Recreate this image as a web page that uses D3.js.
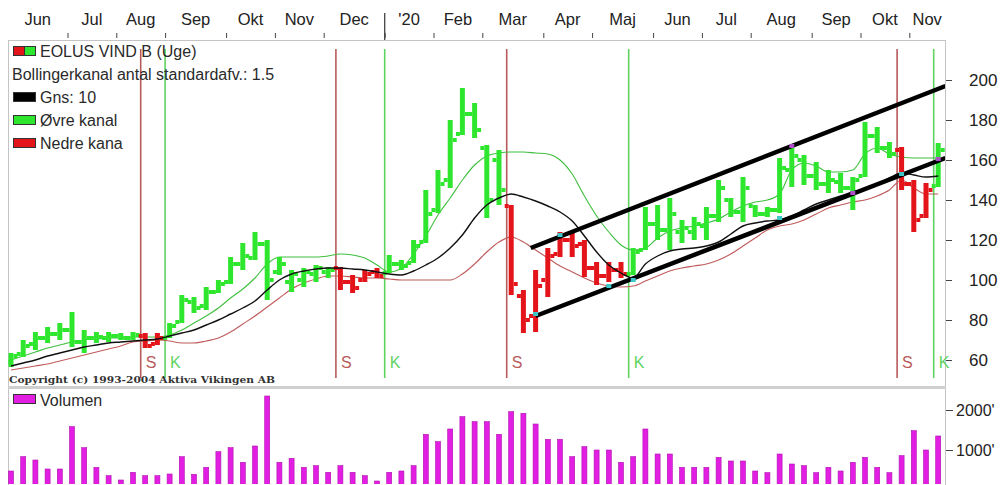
<!DOCTYPE html>
<html><head><meta charset="utf-8">
<script src="https://cdn.jsdelivr.net/npm/d3@7"></script>
<style>
html,body{margin:0;padding:0;background:#fff;}
svg{display:block;font-family:"Liberation Sans",Arial,sans-serif;}
</style></head>
<body>
<svg id="c" width="1005" height="485"></svg>
<script>
// ---- data ----
const weeks = ["2019-05-27","2019-06-03","2019-06-10","2019-06-17","2019-06-24","2019-07-01","2019-07-08","2019-07-15","2019-07-22","2019-07-29",
"2019-08-05","2019-08-12","2019-08-19","2019-08-26","2019-09-02","2019-09-09","2019-09-16","2019-09-23","2019-09-30","2019-10-07",
"2019-10-14","2019-10-21","2019-10-28","2019-11-04","2019-11-11","2019-11-18","2019-11-25","2019-12-02","2019-12-09","2019-12-16",
"2019-12-23","2019-12-30","2020-01-06","2020-01-13","2020-01-20","2020-01-27","2020-02-03","2020-02-10","2020-02-17","2020-02-24",
"2020-03-02","2020-03-09","2020-03-16","2020-03-23","2020-03-30","2020-04-06","2020-04-13","2020-04-20","2020-04-27","2020-05-04",
"2020-05-11","2020-05-18","2020-05-25","2020-06-01","2020-06-08","2020-06-15","2020-06-22","2020-06-29","2020-07-06","2020-07-13",
"2020-07-20","2020-07-27","2020-08-03","2020-08-10","2020-08-17","2020-08-24","2020-08-31","2020-09-07","2020-09-14","2020-09-21",
"2020-09-28","2020-10-05","2020-10-12","2020-10-19","2020-10-26","2020-11-02","2020-11-09"];
const monthLabels = ["Jun","Jul","Aug","Sep","Okt","Nov","Dec","'20","Feb","Mar","Apr","Maj","Jun","Jul","Aug","Sep","Okt","Nov"];

const open  = [59,63,68,71,73,75,69,71,71,72,71,72,68,71,79,89,87,94,99,108,111,118,104,99,100,103,104,106,99,100,104,103.5,108,108.5,119,135,150,173,183,166,160,137,92,82,100,113,120,118,106,102,105,103,115,128,125,124,124,127,132,140,134,137,133,135,155,160,152,148,149,146,152,172,166,165,148,132,147];
const high  = [63.5,70,74,76.5,78.5,84,75,74,74,73.5,74,73.5,73.5,78.5,92.5,91.5,96.5,100,111.5,118.5,124,120,111.5,105,106,107.5,106.5,106.5,102.5,105,106,112.5,110,120,145,155,180,196,188.5,167.5,165,137.5,95,105,116,124,124,120,109,109,109,116,136.5,137.5,141,130,131.5,136.5,150,141,151.5,137.5,136.5,161,166.5,162.5,159,155,153.5,151.5,179,176.5,169,166.5,150,148.5,168.5];
const low   = [56.5,61.5,65,68.5,70,66.5,63.5,68.5,69,70,70,66,67.5,71,78.5,83.5,85,93.5,98,105,110,90,102.5,94,96.5,99,101,95,93.5,99,101,103.5,105,108.5,118.5,133.5,146,172.5,171,131,137.5,92.5,73.5,74,91.5,111.5,111.5,101.5,97.5,99,101,102.5,115,120,115,118.5,120,120,129,131.5,129,131.5,131.5,133.5,146.5,147.5,145,143.5,143.5,135,151.5,163.5,161,145,124,131,146.5];
const close = [62,67,71,73,75,69,71,71.5,72,71,72.5,67,71,77,90,86,94,98,108,112,118,100,108,103,104,106,105,99,96,103,102,108,107,117,133,148,170,183,175,140,145,98,80,97,112,120,117,106,102,105,103,114,128,125,133,126,128,132,146,134,146,133,135,156,162,152,148,150,146,150,172,166,163,148,130,145,165];
const volume = [475,833,750,525,525,1583,1058,567,358,250,442,358,358,400,833,392,567,958,1058,692,1100,2350,692,792,567,608,442,608,442,358,225,442,475,608,1392,1208,1525,1833,1708,1708,1392,1958,1917,1650,1267,1267,833,1083,1000,1000,692,833,1525,900,900,567,567,567,817,725,725,475,433,900,650,608,433,567,475,692,817,567,433,858,1483,1000,1350];
const average = [57,58.5,60,62,63.5,65,66.5,67.5,68.5,69,69.5,70,70.5,72,73.5,75,77.5,80,83,86,89.5,95,100,103,104.5,105.5,106,106,105.5,105,104,103,102.5,104.5,107.5,111,116,122.5,131,137.5,141,143,141.5,139.5,137,134,129.5,122,114,107.5,103.5,101,108,112,114.5,115.5,116,117,119,123,127,128.5,129.5,130,132,135,138,140,142,144,145.5,148,151,153.5,152.5,151.5,152];
const upperBand = [60,62,64,66,67.5,69,70,70.5,71,71,71.5,71.5,71.5,72.5,75,78.5,82,86,91,95.5,101,108,111.5,111.5,111.5,111.5,112,113,112.5,111,107.5,104,106,113,122,132.5,141,150,157.5,162,163.5,164,164,163.5,163,160,153,142,132,124,117.5,115,116,121,124.5,126,127,128.5,130.5,134,137,139,140,143,155,158.5,157,154,154,155,163,166,163,161.5,161,161,161];
const lowerBand = [55,56,57,58,59.5,61,62.5,64,65.5,67,69,69.5,70,69.5,68.5,68.5,69.5,71,74,78,82,86.5,91,95.5,98.5,100.5,102,102,101.5,101,101,100.5,100,100,100,100,100,103,108,114,119,121.5,119,115,111,107,104,101,98.5,97,96.5,97,99.5,102,104.5,106,107,108,110,113,117,121,125,127,128,130,133,136,137.5,139,140,142,145,150,146,143,143];
const sellWeeks = [11,27,41,73];
const buyWeeks  = [13,31,51,76];
const channelUpper = [{i:42.6,v:116},{i:76.6,v:197}];
const channelLower = [{i:43,v:82},{i:76.6,v:161}];
const touchPoints = [{i:43,v:83,c:"#3cc8c8"},{i:45,v:122.5,c:"#3cc8c8"},{i:49,v:97,c:"#3cc8c8"},{i:51,v:100,c:"#3cc8c8"},{i:63,v:131,c:"#3cc8c8"},{i:64,v:167,c:"#b050c8"},{i:69,v:143.5,c:"#b050c8"},{i:73,v:153,c:"#3cc8c8"},{i:76,v:160.5,c:"#b050c8"}];
const priceTicks = [60,80,100,120,140,160,180,200];
const volumeTicks = [1000,2000];
const legendItems = ["EOLUS VIND B (Uge)","Bollingerkanal antal standardafv.: 1.5","Gns: 10","Øvre kanal","Nedre kana"];

// ---- layout ----
const L=8, R=945, T=40, MB=386, VT=389, VB=485;
const GREEN="#2fe62f", RED="#e3141a", SELL="#b85a5a", BUY="#5fd35f";
const svg = d3.select("#c");
const x = d3.scaleLinear().domain([0,76]).range([11,938.2]);
const y = d3.scaleLinear().domain([60,200]).range([360,80]);
const yv = d3.scaleLinear().domain([0,2000]).range([490,410]);
const sig = i => x(i) - 4.5;

svg.append("rect").attr("width",1005).attr("height",485).attr("fill","#fff");
const defs = svg.append("defs");
defs.append("clipPath").attr("id","cm").append("rect").attr("x",L).attr("y",T).attr("width",R-L).attr("height",MB-T);
defs.append("clipPath").attr("id","cv").append("rect").attr("x",L).attr("y",VT).attr("width",R-L).attr("height",VB-VT-1);

// panels
svg.append("rect").attr("x",L+0.5).attr("y",T+0.5).attr("width",R-L).attr("height",MB-T).attr("fill","none").attr("stroke","#c4c4c4");
svg.append("rect").attr("x",L).attr("y",MB).attr("width",R-L+1).attr("height",VT-MB).attr("fill","#cfcfcf");
svg.append("line").attr("x1",L+0.5).attr("x2",L+0.5).attr("y1",VT).attr("y2",VB).attr("stroke","#c4c4c4");
svg.append("line").attr("x1",R+0.5).attr("x2",R+0.5).attr("y1",VT).attr("y2",VB).attr("stroke","#c4c4c4");

// top axis
const monthIdx = weeks.map((w,i)=>{const d=new Date(w+"T00:00:00Z"); const e=new Date(d.getTime()+6*864e5); return (d.getUTCDate()===1||e.getUTCMonth()!==d.getUTCMonth())?i:-1;}).filter(i=>i>=0);
const tickPos = monthIdx.map(i=>sig(i));
const topAxis = d3.axisTop(d3.scaleIdentity()).tickValues(tickPos.filter(p=>p>L)).tickSize(5).tickFormat("");
const gt = svg.append("g").attr("transform","translate(0,38)").call(topAxis);
gt.select(".domain").remove();
gt.selectAll(".tick line").attr("stroke","#444");
const yearI = monthIdx.find(i=>weeks[i].startsWith("2019-12-30"));
svg.append("line").attr("x1",sig(yearI)).attr("x2",sig(yearI)).attr("y1",13).attr("y2",40).attr("stroke","#444").attr("stroke-width",1.3);
monthLabels.forEach((m,k)=>{
  const a = Math.max(tickPos[k], L);
  const b = k+1<tickPos.length ? tickPos[k+1] : R;
  svg.append("text").attr("x",(a+Math.min(b,R))/2).attr("y",25).attr("text-anchor","middle")
    .attr("font-size",16.5).attr("fill","#222").text(m);
});

// right price axis
const ga = svg.append("g").attr("transform",`translate(${R+1},0)`)
  .call(d3.axisRight(y).tickValues(priceTicks).tickSize(6).tickPadding(17));
ga.select(".domain").remove();
ga.selectAll("text").attr("font-size",17).attr("fill","#222").attr("font-family","Liberation Sans, Arial");
ga.selectAll(".tick line").attr("stroke","#444");
const gv = svg.append("g").attr("transform",`translate(${R+1},0)`)
  .call(d3.axisRight(yv).tickValues(volumeTicks).tickSize(7).tickPadding(3).tickFormat(d=>d+"'"));
gv.select(".domain").remove();
gv.selectAll("text").attr("font-size",16).attr("fill","#222").attr("font-family","Liberation Sans, Arial");
gv.selectAll(".tick line").attr("stroke","#444");

// main plot
const gm = svg.append("g").attr("clip-path","url(#cm)");
// signal lines
sellWeeks.forEach(i=>{
  gm.append("line").attr("x1",sig(i)).attr("x2",sig(i)).attr("y1",49).attr("y2",378).attr("stroke",SELL).attr("stroke-width",1.6);
  svg.append("text").attr("x",sig(i)+5).attr("y",368).attr("font-size",16).attr("fill",SELL).text("S");
});
buyWeeks.forEach(i=>{
  gm.append("line").attr("x1",sig(i)).attr("x2",sig(i)).attr("y1",49).attr("y2",378).attr("stroke",BUY).attr("stroke-width",1.6);
  svg.append("text").attr("x",sig(i)+5).attr("y",368).attr("font-size",16).attr("fill",BUY).text("K");
});

// bands and average
const line = d3.line().x((d,i)=>x(i)).y(d=>y(d)).curve(d3.curveMonotoneX);
gm.append("path").datum(upperBand).attr("d",line).attr("fill","none").attr("stroke","#3fbf3f").attr("stroke-width",1.1);
gm.append("path").datum(lowerBand).attr("d",line).attr("fill","none").attr("stroke","#c05a5a").attr("stroke-width",1.1);

// bars
const isRed = i => { let s=false; for(let k=0;k<=i;k++){ if(sellWeeks.includes(k)) s=true; if(buyWeeks.includes(k)) s=false; } return s; };
const gb = gm.append("g");
close.forEach((c,i)=>{
  const col = isRed(i)?RED:GREEN, cx=x(i);
  gb.append("rect").attr("x",cx-2.5).attr("y",y(high[i])).attr("width",5).attr("height",Math.max(2,y(low[i])-y(high[i]))).attr("fill",col);
  gb.append("rect").attr("x",cx-6.5).attr("y",y(open[i])-2).attr("width",4).attr("height",4).attr("fill",col);
  gb.append("rect").attr("x",cx+2.5).attr("y",y(c)-2).attr("width",4).attr("height",4).attr("fill",col);
});
gm.append("path").datum(average).attr("d",line).attr("fill","none").attr("stroke","#111").attr("stroke-width",1.4);

// channel lines
const cl = d3.line().x(d=>x(d.i)).y(d=>y(d.v));
gm.append("path").datum(channelUpper).attr("d",cl).attr("stroke","#000").attr("stroke-width",4.5).attr("fill","none");
gm.append("path").datum(channelLower).attr("d",cl).attr("stroke","#000").attr("stroke-width",4.5).attr("fill","none");
touchPoints.forEach(p=>{
  gm.append("rect").attr("x",x(p.i)-2.5).attr("y",y(p.v)-2).attr("width",5).attr("height",4).attr("fill",p.c);
});

// legend
const lg = svg.append("g");
const sw = [null,null,"#000",GREEN,RED];
legendItems.forEach((t,k)=>{
  const cy = 51 + k*23;
  if(k===0){
    lg.append("rect").attr("x",13.5).attr("y",cy-4.5).attr("width",11).attr("height",9).attr("fill",RED).attr("stroke","#333");
    lg.append("rect").attr("x",24.5).attr("y",cy-4.5).attr("width",11).attr("height",9).attr("fill",GREEN).attr("stroke","#333");
  } else if(sw[k]){
    lg.append("rect").attr("x",13.5).attr("y",cy-4.5).attr("width",22).attr("height",9).attr("fill",sw[k]).attr("stroke","#333");
  }
  lg.append("text").attr("x",k===1?12:40).attr("y",cy+6).attr("font-size",16).attr("fill","#2a2a2a").text(t);
});
svg.append("text").attr("x",9).attr("y",383).attr("font-size",10).attr("font-weight","bold")
  .attr("font-family","DejaVu Serif, serif").attr("fill","#333").attr("textLength",266).attr("lengthAdjust","spacingAndGlyphs")
  .text("Copyright (c) 1993-2004 Aktiva Vikingen AB");

// volume
const gvb = svg.append("g").attr("clip-path","url(#cv)");
volume.forEach((v,i)=>{
  gvb.append("rect").attr("x",x(i)-2.5).attr("y",yv(v)).attr("width",5).attr("height",yv(0)-yv(v)).attr("fill","#e21ee2").attr("stroke","#b010b0").attr("stroke-width",0.6);
});
svg.append("rect").attr("x",13.5).attr("y",394.5).attr("width",22).attr("height",9).attr("fill","#e21ee2").attr("stroke","#333");
svg.append("text").attr("x",40).attr("y",406).attr("font-size",16).attr("fill","#2a2a2a").text("Volumen");
</script>
</body></html>
